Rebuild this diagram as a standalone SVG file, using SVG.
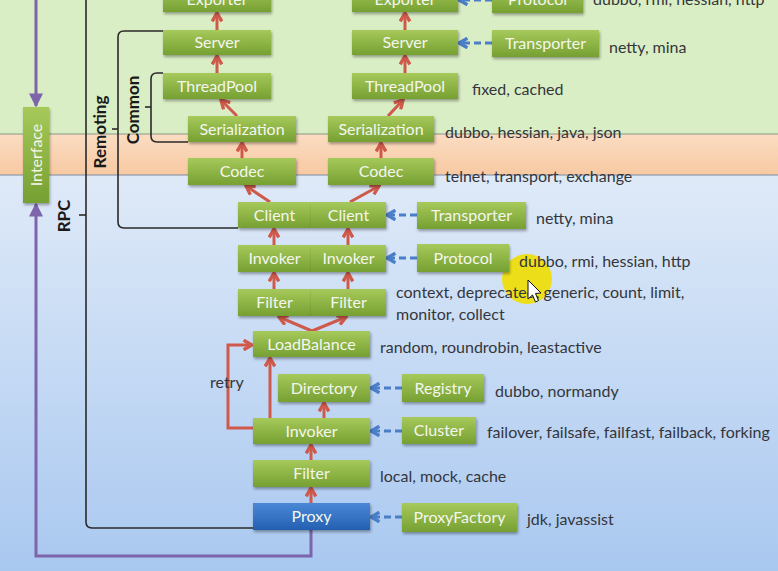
<svg xmlns="http://www.w3.org/2000/svg" width="778" height="571" viewBox="0 0 778 571">
<defs>
<linearGradient id="gG" x1="0" y1="0" x2="0" y2="1"><stop offset="0" stop-color="#a6c95a"/><stop offset="1" stop-color="#76a032"/></linearGradient>
<linearGradient id="gB" x1="0" y1="0" x2="0" y2="1"><stop offset="0" stop-color="#4a88d6"/><stop offset="1" stop-color="#2460b2"/></linearGradient>
<linearGradient id="bgB" x1="0" y1="0" x2="0" y2="1"><stop offset="0" stop-color="#dfeaf8"/><stop offset="1" stop-color="#a9c8f0"/></linearGradient>
<linearGradient id="bgO" x1="0" y1="0" x2="0" y2="1"><stop offset="0" stop-color="#fbdcc2"/><stop offset="1" stop-color="#f7c9a2"/></linearGradient>
<filter id="sh" x="-10%" y="-20%" width="130%" height="160%"><feDropShadow dx="1" dy="2" stdDeviation="1.5" flood-color="#000" flood-opacity="0.35"/></filter>
<marker id="ar" viewBox="0 0 10 10" refX="8.5" refY="5" markerWidth="12" markerHeight="12" markerUnits="userSpaceOnUse" orient="auto"><path d="M1.5,1 L8.5,5 L1.5,9" fill="none" stroke="#cf5a4c" stroke-width="2.8"/></marker>
<marker id="ab" viewBox="0 0 10 10" refX="8.5" refY="5" markerWidth="12" markerHeight="12" markerUnits="userSpaceOnUse" orient="auto"><path d="M1.5,1 L8.5,5 L1.5,9" fill="none" stroke="#4a7fc8" stroke-width="2.8"/></marker>
<marker id="ap" viewBox="0 0 10 10" refX="9" refY="5" markerWidth="16" markerHeight="14" markerUnits="userSpaceOnUse" orient="auto"><path d="M0,0 L10,5 L0,10 z" fill="#7d64ab"/></marker>
<style>
.bx{fill:url(#gG);filter:url(#sh)}
.bp{fill:url(#gB);filter:url(#sh)}
.bt{font-family:Lato,"Liberation Sans",sans-serif;font-size:16px;fill:#f4f6ee;text-anchor:middle}
.st{font-family:Lato,"Liberation Sans",sans-serif;font-size:16px;fill:#34363c}
.lb{font-family:Lato,"Liberation Sans",sans-serif;font-size:17px;font-weight:bold;fill:#1a1a1a;text-anchor:middle}
.r{stroke:#cf5a4c;stroke-width:3;fill:none;marker-end:url(#ar)}
.b{stroke:#4a7fc8;stroke-width:3;fill:none;stroke-dasharray:7,4;marker-end:url(#ab)}
.p{stroke:#7d64ab;stroke-width:3;fill:none;marker-end:url(#ap)}
.k{stroke:#2a2a2a;stroke-width:1.6;fill:none}
</style>
</defs>
<!-- background bands -->
<rect x="0" y="0" width="778" height="134" fill="#daeec5"/>
<rect x="0" y="134" width="778" height="41" fill="url(#bgO)"/>
<rect x="0" y="175" width="778" height="396" fill="url(#bgB)"/>
<line x1="0" y1="134" x2="778" y2="134" stroke="#8a9a80" stroke-width="1"/>
<line x1="0" y1="175" x2="778" y2="175" stroke="#7f8aa0" stroke-width="1"/>

<!-- cursor highlight -->
<circle cx="527" cy="279" r="25" fill="#ecdf1a"/>

<!-- connectors -->
<g id="connectors">
<path class="k" d="M86,0 V522 Q86,528 92,528 H253"/>
<line class="k" x1="79" y1="215" x2="86" y2="215"/>
<path class="k" d="M163,31 H124 Q118,31 118,37 V222 Q118,228 124,228 H238"/>
<line class="k" x1="112" y1="129" x2="118" y2="129"/>
<path class="k" d="M163,73 H157 Q151,73 151,79 V136 Q151,142 157,142 H188"/>
<line class="k" x1="145" y1="107" x2="151" y2="107"/>
<path class="p" d="M36,0 V106"/>
<path class="p" d="M311,530 V556 H36 V204"/>
<path class="r" d="M217,30 V13"/>
<path class="r" d="M217,73 V56"/>
<path class="r" d="M237,116 L221,100"/>
<path class="r" d="M242,158 V143"/>
<path class="r" d="M270,202 L246,186"/>
<path class="r" d="M405,30 V13"/>
<path class="r" d="M405,73 V56"/>
<path class="r" d="M388,116 L403,100"/>
<path class="r" d="M381,158 V143"/>
<path class="r" d="M350,202 L379,186"/>
<path class="r" d="M274,245 V229"/>
<path class="r" d="M348,245 V229"/>
<path class="r" d="M274,289 V273"/>
<path class="r" d="M348,289 V273"/>
<path class="r" d="M312,331 L279,317"/>
<path class="r" d="M312,331 L346,317"/>
<path class="r" d="M270,418 V358"/>
<path class="r" d="M324,418 V403"/>
<path class="r" d="M253,428 H228 V345 H252"/>
<path class="r" d="M311,460 V445"/>
<path class="r" d="M311,503 V488"/>
<path class="b" d="M492,0 H459"/>
<path class="b" d="M492,43 H459"/>
<path class="b" d="M417,215 H387"/>
<path class="b" d="M417,258 H387"/>
<path class="b" d="M402,388 H371"/>
<path class="b" d="M402,431 H371"/>
<path class="b" d="M402,517 H371"/>
</g>

<!-- nodes -->
<g id="interface"><rect class="bx" x="23" y="107" width="26" height="96"/><text class="bt" transform="translate(36,155) rotate(-90)" dy="6">Interface</text></g>
<g id="exporter1"><rect class="bx" x="163" y="-14" width="108" height="26"/><text class="bt" x="217" y="5">Exporter</text></g>
<g id="exporter2"><rect class="bx" x="352" y="-14" width="106" height="26"/><text class="bt" x="405" y="5">Exporter</text></g>
<g id="protocol-top"><rect class="bx" x="492" y="-14" width="91" height="27"/><text class="bt" x="537.5" y="5">Protocol</text></g>
<g id="server1"><rect class="bx" x="163" y="30" width="108" height="25"/><text class="bt" x="217" y="48">Server</text></g>
<g id="server2"><rect class="bx" x="352" y="30" width="106" height="25"/><text class="bt" x="405" y="48">Server</text></g>
<g id="transporter-top"><rect class="bx" x="492" y="30" width="107" height="27"/><text class="bt" x="545.5" y="49">Transporter</text></g>
<g id="threadpool1"><rect class="bx" x="163" y="73" width="108" height="26"/><text class="bt" x="217" y="91.5">ThreadPool</text></g>
<g id="threadpool2"><rect class="bx" x="352" y="73" width="106" height="26"/><text class="bt" x="405" y="91.5">ThreadPool</text></g>
<g id="serialization1"><rect class="bx" x="188" y="116" width="108" height="26"/><text class="bt" x="242" y="134.5">Serialization</text></g>
<g id="serialization2"><rect class="bx" x="328" y="116" width="106" height="26"/><text class="bt" x="381" y="134.5">Serialization</text></g>
<g id="codec1"><rect class="bx" x="188" y="158" width="108" height="27"/><text class="bt" x="242" y="177">Codec</text></g>
<g id="codec2"><rect class="bx" x="328" y="158" width="106" height="27"/><text class="bt" x="381" y="177">Codec</text></g>
<g id="client1"><rect class="bx" x="238" y="202" width="73" height="26"/><text class="bt" x="274.5" y="220.5">Client</text></g>
<g id="client2"><rect class="bx" x="311" y="202" width="75" height="26"/><text class="bt" x="348.5" y="220.5">Client</text></g>
<g id="transporter"><rect class="bx" x="417" y="202" width="109" height="27"/><text class="bt" x="471.5" y="221">Transporter</text></g>
<g id="invoker1"><rect class="bx" x="238" y="245" width="73" height="27"/><text class="bt" x="274.5" y="264">Invoker</text></g>
<g id="invoker2"><rect class="bx" x="311" y="245" width="75" height="27"/><text class="bt" x="348.5" y="264">Invoker</text></g>
<g id="protocol"><rect class="bx" x="417" y="244" width="92" height="28"/><text class="bt" x="463" y="263.5">Protocol</text></g>
<g id="filter1"><rect class="bx" x="238" y="289" width="73" height="27"/><text class="bt" x="274.5" y="308">Filter</text></g>
<g id="filter2"><rect class="bx" x="311" y="289" width="75" height="27"/><text class="bt" x="348.5" y="308">Filter</text></g>
<g id="loadbalance"><rect class="bx" x="253" y="331" width="117" height="26"/><text class="bt" x="311.5" y="349.5">LoadBalance</text></g>
<g id="directory"><rect class="bx" x="278" y="374" width="92" height="28"/><text class="bt" x="324" y="393.5">Directory</text></g>
<g id="registry"><rect class="bx" x="402" y="374" width="82" height="28"/><text class="bt" x="443" y="393.5">Registry</text></g>
<g id="invoker"><rect class="bx" x="253" y="418" width="117" height="26"/><text class="bt" x="311.5" y="436.5">Invoker</text></g>
<g id="cluster"><rect class="bx" x="402" y="417" width="74" height="27"/><text class="bt" x="439" y="436">Cluster</text></g>
<g id="filter"><rect class="bx" x="253" y="460" width="117" height="27"/><text class="bt" x="311.5" y="479">Filter</text></g>
<g id="proxy"><rect class="bp" x="253" y="503" width="117" height="27"/><text class="bt" x="311.5" y="522">Proxy</text></g>
<g id="proxyfactory"><rect class="bx" x="402" y="503" width="115" height="29"/><text class="bt" x="459.5" y="523">ProxyFactory</text></g>

<!-- bracket labels -->
<text class="lb" transform="translate(64,216) rotate(-90)" dy="6">RPC</text>
<text class="lb" transform="translate(100,132) rotate(-90)" dy="6">Remoting</text>
<text class="lb" transform="translate(133,110) rotate(-90)" dy="6">Common</text>

<!-- side texts -->
<text class="st" x="593" y="5">dubbo, rmi, hessian, http</text>
<text class="st" x="609" y="53">netty, mina</text>
<text class="st" x="472" y="95">fixed, cached</text>
<text class="st" x="445" y="138">dubbo, hessian, java, json</text>
<text class="st" x="445" y="182">telnet, transport, exchange</text>
<text class="st" x="536" y="224">netty, mina</text>
<text class="st" x="519" y="267">dubbo, rmi, hessian, http</text>
<text class="st" x="396" y="298">context, deprecated, generic, count, limit,</text>
<text class="st" x="396" y="320">monitor, collect</text>
<text class="st" x="380" y="353">random, roundrobin, leastactive</text>
<text class="st" x="210" y="388">retry</text>
<text class="st" x="495" y="397">dubbo, normandy</text>
<text class="st" x="487" y="438">failover, failsafe, failfast, failback, forking</text>
<text class="st" x="380" y="482">local, mock, cache</text>
<text class="st" x="527" y="525">jdk, javassist</text>

<!-- mouse pointer -->
<path d="M528,280 L528,299 L532.5,295 L535.5,302 L538.5,300.5 L535.5,293.5 L541,293 Z" fill="#fff" stroke="#111" stroke-width="1"/>
</svg>
